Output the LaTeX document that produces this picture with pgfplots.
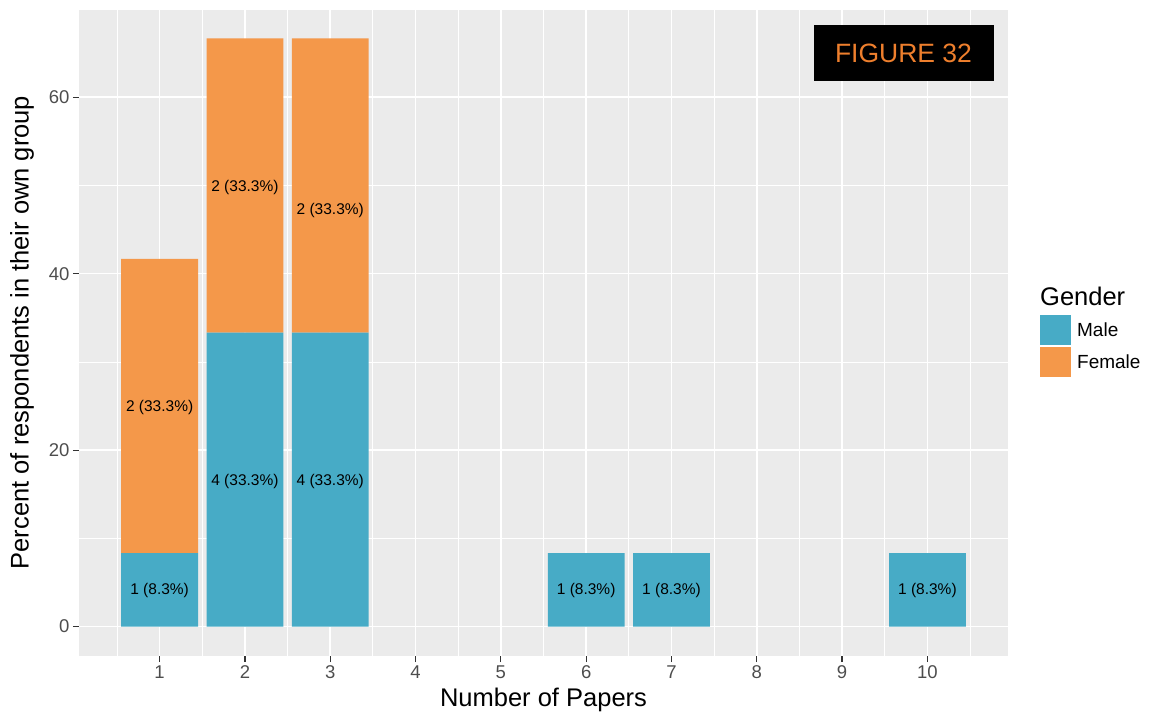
\documentclass[border=0pt]{standalone}
\usepackage{pgfplots}
\usepackage{pgfplotstable}
\pgfplotsset{compat=1.18}
\usepackage{fontspec}
\setmainfont{Liberation Sans}

\definecolor{panelbg}{HTML}{EBEBEB}
\definecolor{male}{HTML}{47ABC6}
\definecolor{female}{HTML}{F4984A}
\definecolor{ticktext}{HTML}{4D4D4D}
\definecolor{tickline}{HTML}{333333}
\definecolor{figorange}{HTML}{EE7F2D}

% percent of respondents in their own group, by number of papers
\pgfplotstableread{
x  male    female
1  8.333   33.333
2  33.333  33.333
3  33.333  33.333
6  8.333   0
7  8.333   0
10 8.333   0
}\papers

% count (share) labels and where they sit
\pgfplotstableread[col sep=comma]{
x,y,label
1,4.07,1 (8.3\%)
1,24.8,2 (33.3\%)
2,16.5,4 (33.3\%)
2,49.8,2 (33.3\%)
3,16.5,4 (33.3\%)
3,47.2,2 (33.3\%)
6,4.07,1 (8.3\%)
7,4.07,1 (8.3\%)
10,4.07,1 (8.3\%)
}\barlabels

\pgfplotsset{
  panel/.style={
    scale only axis, width=929pt, height=647pt,
    xmin=0.055, xmax=10.945, ymin=-3.333, ymax=70,
  }
}

\begin{document}
\begin{tikzpicture}
\begin{axis}[panel,
  clip=false,
  axis background/.style={fill=panelbg},
  axis x line*=bottom, axis y line*=left,
  axis line style={draw=none},
  xtick={1,...,10}, ytick={0,20,40,60},
  minor xtick={0.5,1.5,...,10.5}, minor ytick={10,30,50,70},
  grid=both,
  major grid style={white, line width=1.6pt},
  minor grid style={white, line width=0.8pt},
  tick align=outside, major tick length=6pt, minor tick length=0pt,
  tick style={tickline, line width=1.2pt},
  /pgf/number format/assume math mode=true,
  ticklabel style={font=\fontsize{18.5}{20}\selectfont, text=ticktext},
  xlabel={Number of Papers},
  ylabel={Percent of respondents in their own group},
  label style={font=\fontsize{25.5}{28}\selectfont},
  xlabel style={at={(axis description cs:0.5,-0.068)}, anchor=center},
  ylabel style={at={(axis description cs:-0.0614,0.5)}, anchor=center, rotate=0},
  ybar stacked, bar width=0.9,
  legend cell align=left,
  legend style={at={(axis description cs:1.0344,0.527)}, anchor=north west,
    draw=none, fill=none, inner sep=0pt, row sep=2pt,
    font=\fontsize{19}{21}\selectfont,
    /tikz/every odd column/.append style={column sep=4pt}},
  legend image code/.code={\fill[#1] (0pt,-15pt) rectangle (31pt,15pt);},
]
\addplot[fill=male, draw=none] table[x=x, y=male] {\papers};
\addlegendentry{Male}
\addplot[fill=female, draw=none] table[x=x, y=female] {\papers};
\addlegendentry{Female}

\node[fill=black, text=figorange, minimum width=180pt, minimum height=56pt,
  inner sep=0pt, font=\fontsize{26.5}{28}\selectfont]
  at (axis cs:9.72,65.0) {FIGURE 32};
\node[anchor=base west, inner sep=0pt, font=\fontsize{25.5}{28}\selectfont]
  at (axis description cs:1.0344,0.541) {Gender};
\end{axis}

\begin{axis}[panel, hide axis]
\addplot[draw=none, nodes near coords, point meta=explicit symbolic,
  nodes near coords style={anchor=center, inner sep=0pt, text=black,
    font=\fontsize{15.5}{17}\selectfont}]
  table[x=x, y=y, meta=label] {\barlabels};
\end{axis}

\pgfresetboundingbox
\path (-79pt,-57pt) rectangle (1075pt,656pt);
\end{tikzpicture}
\end{document}
